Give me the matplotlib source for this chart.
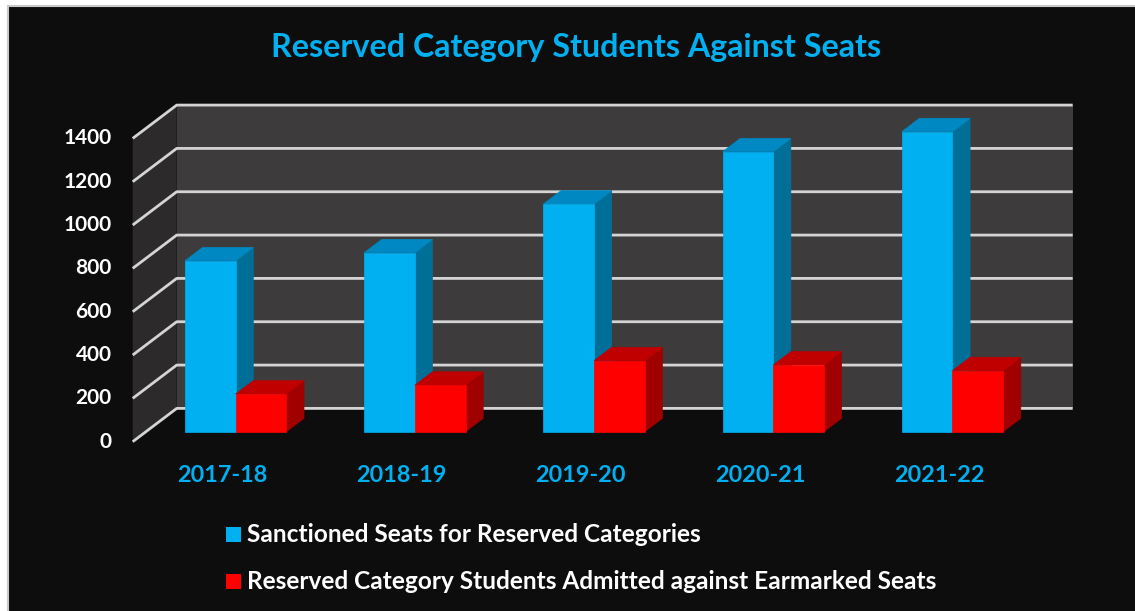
import matplotlib.pyplot as plt
from matplotlib.patches import Polygon, Rectangle

years = ['2017-18', '2018-19', '2019-20', '2020-21', '2021-22']
sanctioned = [789, 826, 1051, 1292, 1385]
admitted = [174, 215, 328, 308, 282]
series_names = ['Sanctioned Seats for Reserved Categories',
                'Reserved Category Students Admitted against Earmarked Seats']
y_ticks = [0, 200, 400, 600, 800, 1000, 1200, 1400]

# face colours for each series: front, top, side
colors = [('#00b0f0', '#0088c2', '#006f98'),
          ('#ff0000', '#c00000', '#a00000')]

FONT = 'Lato'
W, H = 1135, 611

# layout of the front wall, in pixels
x0_px, slot_px = 132.7, 179.2
y0_px, unit_px = 441.7, 43.33 / 200
DX = 44 / slot_px      # depth shift from front to back, data units
DY = 33.3 / unit_px

def P(x, y, z):
    return (x + z * DX, y + z * DY)

fig = plt.figure(figsize=(W / 100, H / 100), dpi=100)
fig.patch.set_facecolor('white')
# black panel, only its top and left edges fall inside the image
fig.patches.append(Rectangle((8 / W, -0.1), 1.2, 1.1 - 6 / H, transform=fig.transFigure,
                             facecolor='#0d0d0d', edgecolor='#c8c8c8', lw=1.5, zorder=-1))

ax = fig.add_axes([0, 0, 1, 1])
ax.set_zorder(1)
ax.set_xlim(-x0_px / slot_px, (W - x0_px) / slot_px)
ax.set_ylim(-(H - y0_px) / unit_px, y0_px / unit_px)
ax.axis('off')

n = len(years)
top = y_ticks[-1]

# walls
ax.add_patch(Polygon([P(0, 0, 0), P(0, 0, 1), P(0, top, 1), P(0, top, 0)],
                     closed=True, facecolor='#2c2a2b', edgecolor='none', zorder=1))
ax.add_patch(Polygon([P(0, 0, 1), P(n, 0, 1), P(n, top, 1), P(0, top, 1)],
                     closed=True, facecolor='#3e3b3c', edgecolor='none', zorder=1))

# gridlines
for v in y_ticks:
    pts = [P(0, v, 0), P(0, v, 1), P(n, v, 1)]
    ax.plot([p[0] for p in pts], [p[1] for p in pts], color='#d4d4d4', lw=2,
            solid_capstyle='butt', zorder=2)
    ax.text(-21 / slot_px, v, str(v), ha='right', va='center', color='white',
            fontsize=15, fontweight='bold', family=FONT, zorder=5)

# bars
bw, off, z0, z1 = 0.283, 0.218, 0.3, 0.7
zo = 3
for i in range(n):
    for s, vals in enumerate([sanctioned, admitted]):
        h = vals[i]
        xl = i + off + s * bw
        xr = xl + bw
        front_c, top_c, side_c = colors[s]
        side = [P(xr, 0, z0), P(xr, 0, z1), P(xr, h, z1), P(xr, h, z0)]
        topf = [P(xl, h, z0), P(xr, h, z0), P(xr, h, z1), P(xl, h, z1)]
        front = [P(xl, 0, z0), P(xr, 0, z0), P(xr, h, z0), P(xl, h, z0)]
        for poly, c in [(side, side_c), (topf, top_c), (front, front_c)]:
            ax.add_patch(Polygon(poly, closed=True, facecolor=c, edgecolor=c,
                                 lw=0.5, zorder=zo))
            zo += 0.01
    ax.text(i + 0.5, -(475 - y0_px) / unit_px, years[i], ha='center', va='center',
            color='#00b0f0', fontsize=16.8, fontweight='bold', family=FONT, zorder=5)

# title
fig.text(576 / W, 1 - 47 / H, 'Reserved Category Students Against Seats', ha='center',
         va='center', color='#00b0f0', fontsize=23.2, fontweight='bold', family=FONT)

# legend
for k, (name, c) in enumerate(zip(series_names, colors)):
    yc = 534.5 + k * 47.2
    fig.patches.append(Rectangle((226 / W, 1 - (yc + 7.5) / H), 15 / W, 15 / H,
                                 transform=fig.transFigure, facecolor=c[0],
                                 edgecolor='none', zorder=3))
    fig.text(247 / W, 1 - yc / H, name, ha='left', va='center', color='white',
             fontsize=17.6, fontweight='bold', family=FONT)

fig.savefig('out.png', dpi=100, facecolor=fig.get_facecolor())
